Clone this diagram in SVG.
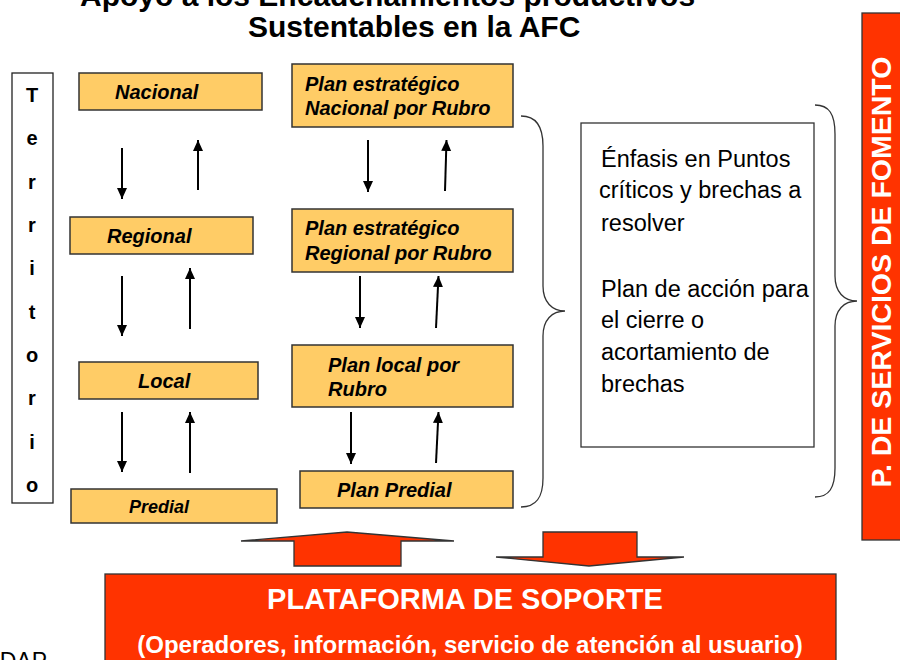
<svg xmlns="http://www.w3.org/2000/svg" width="900" height="660" viewBox="0 0 900 660">
<defs>
<style>
.box{fill:#FFCC66;stroke:#333;stroke-width:1.5}
.lbl{font-family:"Liberation Sans",Arial,sans-serif;font-weight:bold;font-style:italic;font-size:20px;fill:#000}
.terr{font-family:"Liberation Sans",Arial,sans-serif;font-weight:bold;font-size:20px;fill:#000;text-anchor:middle}
.title{font-family:"Liberation Sans",Arial,sans-serif;font-weight:bold;font-size:30px;fill:#000}
.plain{font-family:"Liberation Sans",Arial,sans-serif;font-size:23.5px;fill:#000}
.arr{stroke:#000;stroke-width:2;fill:none;marker-end:url(#ah)}
.brace{fill:none;stroke:#333;stroke-width:1.3}
.red{fill:#FF3300;stroke:#333;stroke-width:1.3}
.wt{font-family:"Liberation Sans",Arial,sans-serif;font-weight:bold;fill:#fff;text-anchor:middle}
</style>
<marker id="ah" markerUnits="userSpaceOnUse" markerWidth="12" markerHeight="12" viewBox="0 0 12 12" refX="11" refY="6" orient="auto">
<path d="M0,1 L11,6 L0,11 Z" fill="#000"/>
</marker>
</defs>
<rect width="900" height="660" fill="#fff"/>

<g id="title">
<text class="title" x="80" y="6">Apoyo a los Encadenamientos productivos</text>
<text class="title" x="248" y="37">Sustentables en la AFC</text>
</g>

<g id="territorio">
<rect x="12" y="73" width="41" height="430" fill="#fff" stroke="#222" stroke-width="1.3"/>
<text class="terr" x="32" y="102">T</text>
<text class="terr" x="32" y="145">e</text>
<text class="terr" x="32" y="189">r</text>
<text class="terr" x="32" y="232">r</text>
<text class="terr" x="32" y="275">i</text>
<text class="terr" x="32" y="319">t</text>
<text class="terr" x="32" y="362">o</text>
<text class="terr" x="32" y="405">r</text>
<text class="terr" x="32" y="449">i</text>
<text class="terr" x="32" y="492">o</text>
</g>

<g id="nacional"><rect class="box" x="79" y="73" width="183" height="37"/><text class="lbl" x="115" y="99">Nacional</text></g>
<g id="regional"><rect class="box" x="70" y="217" width="183" height="37"/><text class="lbl" x="107" y="243">Regional</text></g>
<g id="local"><rect class="box" x="79" y="362" width="179" height="37"/><text class="lbl" x="138" y="388">Local</text></g>
<g id="predial"><rect class="box" x="71" y="489" width="206" height="34"/><text class="lbl" x="129" y="513" style="font-size:18px">Predial</text></g>

<g id="plan-nacional"><rect class="box" x="292" y="64" width="221" height="63"/><text class="lbl" x="305" y="91">Plan estratégico</text><text class="lbl" x="305" y="115">Nacional por Rubro</text></g>
<g id="plan-regional"><rect class="box" x="292" y="209" width="221" height="63"/><text class="lbl" x="305" y="235">Plan estratégico</text><text class="lbl" x="305" y="260">Regional por Rubro</text></g>
<g id="plan-local"><rect class="box" x="292" y="345" width="221" height="62"/><text class="lbl" x="328" y="372">Plan local por</text><text class="lbl" x="328" y="396">Rubro</text></g>
<g id="plan-predial"><rect class="box" x="300" y="471" width="213" height="37"/><text class="lbl" x="337" y="497">Plan Predial</text></g>

<g id="connectors">
<line class="arr" x1="122" y1="148" x2="122" y2="199"/>
<line class="arr" x1="198" y1="190" x2="198" y2="140"/>
<line class="arr" x1="122" y1="276" x2="122" y2="336"/>
<line class="arr" x1="190" y1="329" x2="190" y2="268"/>
<line class="arr" x1="122" y1="412" x2="122" y2="472"/>
<line class="arr" x1="190" y1="473" x2="190" y2="412"/>
<line class="arr" x1="368" y1="140" x2="368" y2="192"/>
<line class="arr" x1="445" y1="191" x2="446.5" y2="140"/>
<line class="arr" x1="360" y1="276" x2="360" y2="328"/>
<line class="arr" x1="436" y1="328" x2="438.5" y2="276"/>
<line class="arr" x1="351" y1="412" x2="351" y2="464"/>
<line class="arr" x1="436" y1="463" x2="438.5" y2="412"/>
<path class="brace" d="M521,116 C536,116 543,126 543,146 L543,286 C543,302 552,311 565,311 C552,311 543,320 543,336 L543,478 C543,498 536,507 521,507"/>
<path class="brace" d="M815,105 C829,105 835,114 835,134 L835,276 C835,292 844,301 857,301 C844,301 835,310 835,326 L835,468 C835,488 829,497 815,497"/>
</g>

<g id="enfasis">
<rect x="581" y="123" width="233" height="324" fill="#fff" stroke="#333" stroke-width="1.3"/>
<text class="plain" x="601" y="167">Énfasis en Puntos</text>
<text class="plain" x="599" y="198">críticos y brechas a</text>
<text class="plain" x="601" y="231">resolver</text>
<text class="plain" x="601" y="297">Plan de acción para</text>
<text class="plain" x="601" y="328">el cierre o</text>
<text class="plain" x="601" y="360">acortamiento de</text>
<text class="plain" x="601" y="392">brechas</text>
</g>

<g id="fomento">
<rect class="red" x="862" y="13" width="40" height="527"/>
<text class="wt" transform="translate(891,272) rotate(-90)" style="font-size:28.5px">P. DE SERVICIOS DE FOMENTO</text>
</g>

<g id="flechas">
<polygon class="red" points="347,532 454,541 401,541 401,566 294,566 294,541 241,541"/>
<polygon class="red" points="543,532 637,532 637,557 684,557 589,566 496,557 543,557"/>
</g>

<g id="plataforma">
<rect class="red" x="105" y="574" width="731" height="100"/>
<text class="wt" x="465" y="609" style="font-size:29px">PLATAFORMA DE SOPORTE</text>
<text class="wt" x="470" y="653" style="font-size:24px">(Operadores, información, servicio de atención al usuario)</text>
</g>

<g id="dap">
<text x="47" y="669" text-anchor="end" style="font-family:'Liberation Sans',Arial,sans-serif;font-size:23px;fill:#000">DAP</text>
</g>
</svg>
